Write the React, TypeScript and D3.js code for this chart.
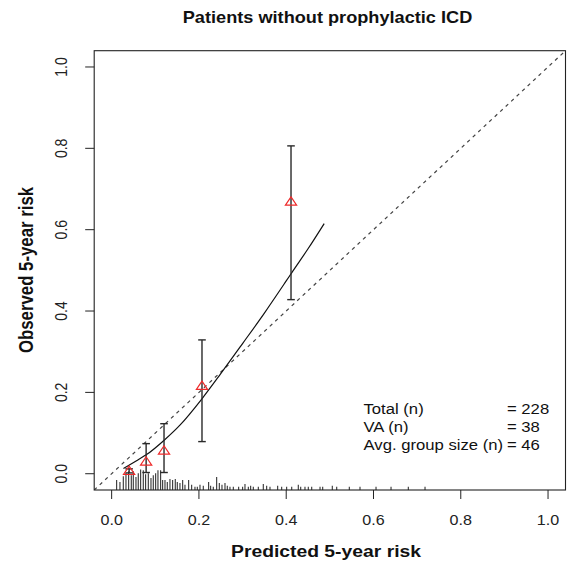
import React from 'react';
import * as d3 from 'd3';

// ---- data ----
const groupPredicted = [0.040, 0.079, 0.120, 0.207, 0.411];
const groupObserved = [0.007, 0.030, 0.057, 0.216, 0.669];
const groupLower = [0.002, 0.003, 0.003, 0.079, 0.428];
const groupUpper = [0.012, 0.074, 0.123, 0.329, 0.806];

const smoothX = [0.027, 0.060, 0.080, 0.121, 0.157, 0.206, 0.250, 0.300, 0.350, 0.400, 0.4125, 0.450, 0.487];
const smoothY = [0.013, 0.034, 0.047, 0.083, 0.120, 0.183, 0.246, 0.320, 0.395, 0.474, 0.494, 0.553, 0.615];

const spikeX = [
  0.0114, 0.019, 0.0267, 0.0328, 0.0389, 0.045, 0.0496, 0.0557, 0.061, 0.0664,
  0.0725, 0.0778, 0.084, 0.0901, 0.0954, 0.1008, 0.1061, 0.1122, 0.1168, 0.1222,
  0.1275, 0.1336, 0.1397, 0.1458, 0.1504, 0.1565, 0.1627, 0.168, 0.1764, 0.1833,
  0.1909, 0.1963, 0.2024, 0.21, 0.2222, 0.2268, 0.2329, 0.2406, 0.2467, 0.2528,
  0.2597, 0.265, 0.2711, 0.2788, 0.291, 0.3001, 0.3055, 0.3132, 0.3185, 0.3246,
  0.3361, 0.3475, 0.3552, 0.3628, 0.3804, 0.3896, 0.401, 0.4126, 0.4277, 0.4332,
  0.443, 0.4506, 0.4584, 0.4775, 0.4836, 0.5056, 0.5157, 0.5446, 0.5691, 0.6058,
  0.6402, 0.6798, 0.7181,
];
const spikeN = [
  4.5, 3.5, 6.5, 8, 9, 7, 9, 6, 8, 10,
  9.5, 7.5, 8, 5.5, 7, 8, 9.5, 9.5, 4.5, 4.5,
  3.5, 5, 4.5, 5, 3.5, 3, 4.5, 2, 4.5, 2,
  1, 1, 2, 1.5, 3.5, 1.5, 1, 6, 3, 2,
  3, 1.5, 1, 1, 1, 1, 2.5, 1, 1.5, 1,
  1, 2.5, 1.5, 1, 1.5, 1, 1, 1, 2, 1,
  1, 1, 1, 1, 1, 1.5, 1, 1, 1, 1,
  1, 1, 1,
];

const tickValues = [0, 0.2, 0.4, 0.6, 0.8, 1.0];
const tickLabels = ['0.0', '0.2', '0.4', '0.6', '0.8', '1.0'];

const legendLabels = ['Total (n)', 'VA (n)', 'Avg. group size (n)'];
const legendValues = ['= 228', '= 38', '= 46'];

const titleText = 'Patients without prophylactic ICD';
const xTitle = 'Predicted 5-year risk';
const yTitle = 'Observed 5-year risk';

// ---- layout ----
const W = 568;
const H = 565;
const left = 94.2;
const right = 565.5;
const top = 50.7;
const bottom = 490;
const SX = 1.15;
const FONT = "'Liberation Sans', Arial, Helvetica, sans-serif";

function T(props: {
  x: number; y: number; size: number; anchor?: string; bold?: boolean; rotate?: boolean;
  children: React.ReactNode; fill?: string;
}) {
  const { x, y, size, anchor = 'middle', bold, rotate, children, fill = '#111' } = props;
  return (
    <text
      transform={`translate(${x},${y}) scale(${SX},1)${rotate ? ' rotate(-90)' : ''}`}
      fontFamily={FONT}
      fontSize={size}
      fontWeight={bold ? 'bold' : 'normal'}
      textAnchor={anchor}
      fill={fill}
    >
      {children}
    </text>
  );
}

export default function App() {
  const x = d3.scaleLinear().domain([-0.04, 1.04]).range([left, right]);
  const y = d3.scaleLinear().domain([-0.04, 1.04]).range([bottom, top]);
  const spikeH = d3.scaleLinear().domain([0, 10]).range([0, 19.3]);

  const smoothLine = d3
    .line<number>()
    .x((_, i) => x(smoothX[i]))
    .y((_, i) => y(smoothY[i]))
    .curve(d3.curveMonotoneX);

  const ink = '#222';

  return (
    <svg
      width={W}
      height={H}
      style={{ position: 'absolute', left: 0, top: 0, background: '#fff' }}
    >
      <defs>
        <clipPath id="plotclip">
          <rect x={left} y={top} width={right - left} height={bottom - top} />
        </clipPath>
      </defs>

      {/* title */}
      <T x={327.5} y={23} size={15.8} bold>{titleText}</T>

      {/* diagonal */}
      <line
        x1={x(-0.04)} y1={y(-0.04)} x2={x(1.04)} y2={y(1.04)}
        stroke="#444" strokeWidth={1.2} strokeDasharray="3.5,4"
        clipPath="url(#plotclip)"
      />

      {/* histogram spikes */}
      {spikeX.map((v, i) => (
        <line
          key={'s' + i}
          x1={x(v)} x2={x(v)}
          y1={bottom} y2={bottom - 1.3 - spikeH(spikeN[i])}
          stroke="#333" strokeWidth={1.1}
        />
      ))}

      {/* smooth curve */}
      <path
        d={smoothLine(smoothX) || ''}
        fill="none" stroke="#111" strokeWidth={1.2}
      />

      {/* error bars */}
      {groupPredicted.map((p, i) => {
        const cx = x(p);
        const y1 = y(groupLower[i]);
        const y2 = y(groupUpper[i]);
        return (
          <g key={'e' + i} stroke="#2a2a2a" strokeWidth={1.4}>
            <line x1={cx} x2={cx} y1={y1} y2={y2} />
            <line x1={cx - 3.8} x2={cx + 3.8} y1={y1} y2={y1} />
            <line x1={cx - 3.8} x2={cx + 3.8} y1={y2} y2={y2} />
          </g>
        );
      })}

      {/* triangles */}
      {groupPredicted.map((p, i) => {
        const cx = x(p);
        const cy = y(groupObserved[i]);
        return (
          <path
            key={'t' + i}
            d={`M${cx},${cy - 4.8}L${cx - 5.6},${cy + 3.6}L${cx + 5.6},${cy + 3.6}Z`}
            fill="none" stroke="#ee2a2a" strokeWidth={1.2}
          />
        );
      })}

      {/* box */}
      <rect
        x={left} y={top} width={right - left} height={bottom - top}
        fill="none" stroke={ink} strokeWidth={1.1}
      />

      {/* x axis */}
      {tickValues.map((t, i) => (
        <g key={'xt' + i}>
          <line x1={x(t)} x2={x(t)} y1={bottom} y2={bottom + 9} stroke={ink} strokeWidth={1} />
          <T x={x(t)} y={524.5} size={14} fill="#222">{tickLabels[i]}</T>
        </g>
      ))}
      <T x={326} y={557} size={16.8} bold>{xTitle}</T>

      {/* y axis */}
      {tickValues.map((t, i) => (
        <g key={'yt' + i}>
          <line x1={left} x2={left - 9} y1={y(t)} y2={y(t)} stroke={ink} strokeWidth={1} />
          <T x={67} y={y(t)} size={14} rotate fill="#222">{tickLabels[i]}</T>
        </g>
      ))}
      <T x={32.5} y={270} size={16.8} bold rotate>{yTitle}</T>

      {/* legend */}
      {legendLabels.map((l, i) => (
        <g key={'l' + i}>
          <T x={363.5} y={414 + i * 18} size={14.5} anchor="start">{l}</T>
          <T x={507} y={414 + i * 18} size={14.5} anchor="start">{legendValues[i]}</T>
        </g>
      ))}
    </svg>
  );
}
